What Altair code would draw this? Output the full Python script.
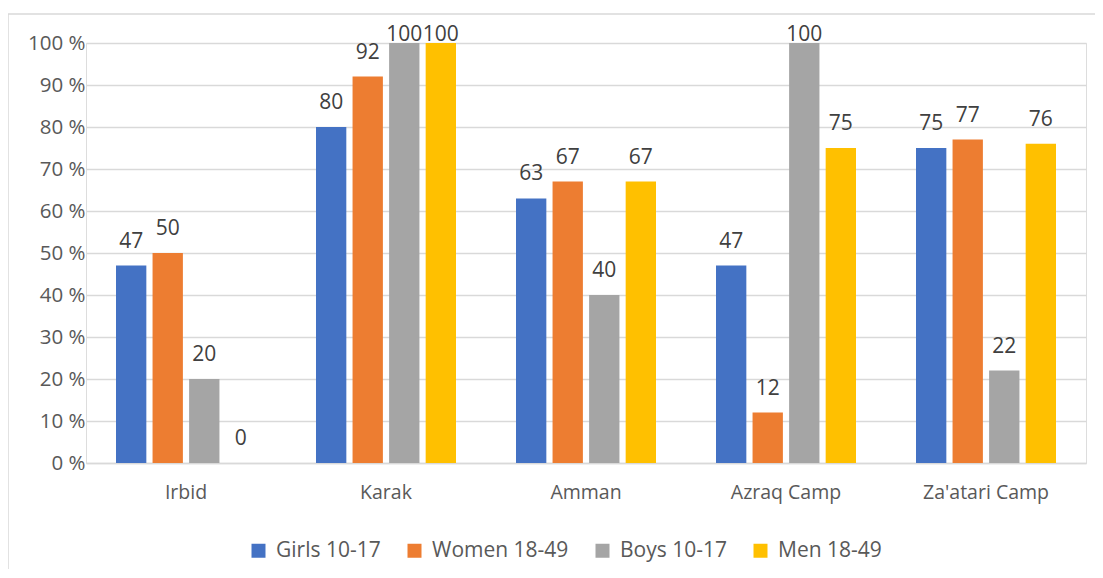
import altair as alt
import pandas as pd

regions = ["Irbid", "Karak", "Amman", "Azraq Camp", "Za'atari Camp"]
series = ["Girls 10-17", "Women 18-49", "Boys 10-17", "Men 18-49"]
girls = [47, 80, 63, 47, 75]
women = [50, 92, 67, 12, 77]
boys = [20, 100, 40, 100, 22]
men = [0, 100, 67, 75, 76]
colors = ["#4472C4", "#ED7D31", "#A5A5A5", "#FFC000"]
y_ticks = [0, 10, 20, 30, 40, 50, 60, 70, 80, 90, 100]

rows = []
for s, vals in zip(series, [girls, women, boys, men]):
    for r, v in zip(regions, vals):
        rows.append({"region": r, "series": s, "value": v})
df = pd.DataFrame(rows)

FONT = "Open Sans"
W, H = 1000, 420

x_enc = alt.X("region:N", sort=regions,
              scale=alt.Scale(paddingInner=0.3, paddingOuter=0.15),
              axis=alt.Axis(title=None, labelAngle=0, labelFont=FONT, labelFontSize=19.5,
                            labelColor="#595959", labelPadding=20, ticks=False,
                            domainColor="#D9D9D9", domainWidth=1.5))
xo = alt.XOffset("series:N", sort=series, scale=alt.Scale(paddingInner=0.17))

base = alt.Chart(df)

bars = base.mark_bar().encode(
    x=x_enc,
    xOffset=xo,
    y=alt.Y("value:Q", scale=alt.Scale(domain=[0, 100]),
            axis=alt.Axis(title=None, values=y_ticks, labelExpr="datum.value + ' %'",
                          labelFont=FONT, labelFontSize=20.5, labelColor="#595959",
                          ticks=False, domain=False, gridColor="#D9D9D9", gridWidth=1.5,
                          labelPadding=1)),
    color=alt.Color("series:N", sort=series,
                    scale=alt.Scale(domain=series, range=colors),
                    legend=alt.Legend(title=None, orient="none", direction="horizontal",
                                      legendX=162, legendY=497,
                                      symbolType="square", symbolSize=196,
                                      symbolStrokeWidth=0,
                                      labelFont=FONT, labelFontSize=21, labelColor="#595959",
                                      columnPadding=23, labelOffset=7)),
)

labels = base.transform_calculate(
    ly="min(datum.value + 4.3, 100.5)"
).mark_text(font=FONT, fontSize=21, color="#404040", baseline="alphabetic").encode(
    x=alt.X("region:N", sort=regions),
    xOffset=xo,
    y=alt.Y("ly:Q"),
    text=alt.Text("value:Q"),
)

frame = alt.Chart(pd.DataFrame({"a": [0]})).mark_rect(
    fill=None, stroke="#D9D9D9", strokeWidth=1.5, clip=False
).encode(x=alt.value(-78), x2=alt.value(1040), y=alt.value(-29), y2=alt.value(600))

chart = alt.layer(frame, bars, labels).properties(
    width=W, height=H,
    padding={"left": 78, "top": 35, "right": 9, "bottom": 106},
    autosize=alt.AutoSizeParams(type="none"),
).configure_view(stroke=None).configure(background="white")

chart.save("out.html", embed_options={"renderer": "svg", "actions": False})
